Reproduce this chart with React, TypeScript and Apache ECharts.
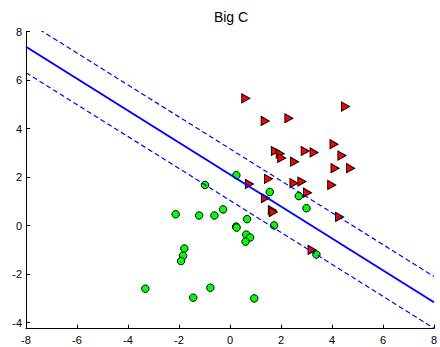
import React, { useEffect, useRef } from "react";
import * as echarts from "echarts";

const titleText = "Big C";

// class +1 (red triangles)
const redPoints: [number, number][] = [
  [0.62, 5.25], [4.53, 4.91], [1.38, 4.32], [2.31, 4.43], [4.08, 3.36],
  [4.39, 2.89], [1.78, 3.08], [1.97, 2.97], [2.03, 2.79], [2.95, 3.08],
  [3.30, 3.02], [2.53, 2.64], [4.12, 2.37], [4.73, 2.37], [1.51, 1.93],
  [2.51, 1.75], [2.82, 1.82], [3.99, 1.68], [0.76, 1.72], [3.04, 1.36],
  [1.39, 1.14], [1.66, 0.64], [1.70, 0.56], [4.30, 0.36], [3.22, -1.0],
];

// class -1 (green circles)
const greenPoints: [number, number][] = [
  [0.25, 2.08], [-0.98, 1.68], [1.56, 1.39], [2.70, 1.22], [3.0, 0.72],
  [-2.13, 0.47], [-1.21, 0.42], [-0.61, 0.42], [-0.27, 0.67], [0.67, 0.27],
  [0.24, -0.04], [0.26, -0.08], [1.73, 0.01], [0.64, -0.37], [0.79, -0.49],
  [0.61, -0.66], [-1.79, -0.94], [-1.84, -1.24], [-1.92, -1.46], [3.39, -1.19],
  [-3.32, -2.6], [-0.77, -2.56], [-1.44, -2.97], [0.95, -3.0],
];

// separating line and margins (endpoints at x = -8 and x = 8)
const boundaryLine: [number, number][] = [[-8, 7.38], [8, -3.16]];
const upperMargin: [number, number][] = [[-8, 8.44], [8, -2.1]];
const lowerMargin: [number, number][] = [[-8, 6.31], [8, -4.23]];

const xTicks = [-8, -6, -4, -2, 0, 2, 4, 6, 8];
const yTicks = [-4, -2, 0, 2, 4, 6, 8];

const FONT = "Liberation Sans";

export default function App() {
  const ref = useRef<HTMLDivElement>(null);
  useEffect(() => {
    if (!ref.current) return;
    const chart = echarts.init(ref.current, null, { renderer: "svg" });
    const axisCommon = {
      type: "value" as const,
      splitLine: { show: false },
      axisLine: { show: true, onZero: false, lineStyle: { color: "#000", width: 1 } },
      axisTick: { show: true, inside: true, length: 4, lineStyle: { color: "#000", width: 1 } },
    };
    chart.setOption({
      animation: false,
      backgroundColor: "#fff",
      grid: { left: 26, top: 31.7, right: 4.3, bottom: 18.3, containLabel: false },
      graphic: [
        {
          type: "text",
          x: 231,
          y: 17,
          style: {
            text: titleText,
            font: `14px ${FONT}`,
            fill: "#000",
            align: "center",
            verticalAlign: "middle",
          },
        },
      ],
      xAxis: {
        ...axisCommon,
        min: xTicks[0],
        max: xTicks[xTicks.length - 1],
        interval: 2,
        axisLabel: { color: "#000", fontSize: 11, fontFamily: FONT, margin: 6 },
      },
      yAxis: {
        ...axisCommon,
        min: -4.25,
        max: 8,
        axisTick: { ...axisCommon.axisTick, customValues: yTicks },
        axisLabel: {
          color: "#000",
          fontSize: 11,
          fontFamily: FONT,
          margin: 4,
          customValues: yTicks,
        },
      },
      series: [
        {
          type: "scatter",
          data: greenPoints,
          symbol: "circle",
          symbolSize: 7.5,
          itemStyle: { color: "#00ff00", borderColor: "#000", borderWidth: 1, opacity: 1 },
          z: 2,
        },
        {
          type: "scatter",
          data: redPoints,
          symbol: "triangle",
          symbolSize: [9, 8],
          symbolRotate: -90,
          itemStyle: { color: "#ff0000", borderColor: "#000", borderWidth: 1, opacity: 1 },
          z: 2,
        },
        {
          type: "line",
          data: boundaryLine,
          showSymbol: false,
          symbol: "none",
          clip: true,
          lineStyle: { color: "#0000ff", width: 2 },
          z: 3,
        },
        {
          type: "line",
          data: upperMargin,
          showSymbol: false,
          symbol: "none",
          clip: true,
          lineStyle: { color: "#0000ff", width: 1.2, type: [5, 3] },
          z: 3,
        },
        {
          type: "line",
          data: lowerMargin,
          showSymbol: false,
          symbol: "none",
          clip: true,
          lineStyle: { color: "#0000ff", width: 1.2, type: [5, 3] },
          z: 3,
        },
      ],
    });
    return () => chart.dispose();
  }, []);
  return (
    <div
      ref={ref}
      style={{ position: "fixed", left: 0, top: 0, width: 440, height: 347 }}
    />
  );
}
